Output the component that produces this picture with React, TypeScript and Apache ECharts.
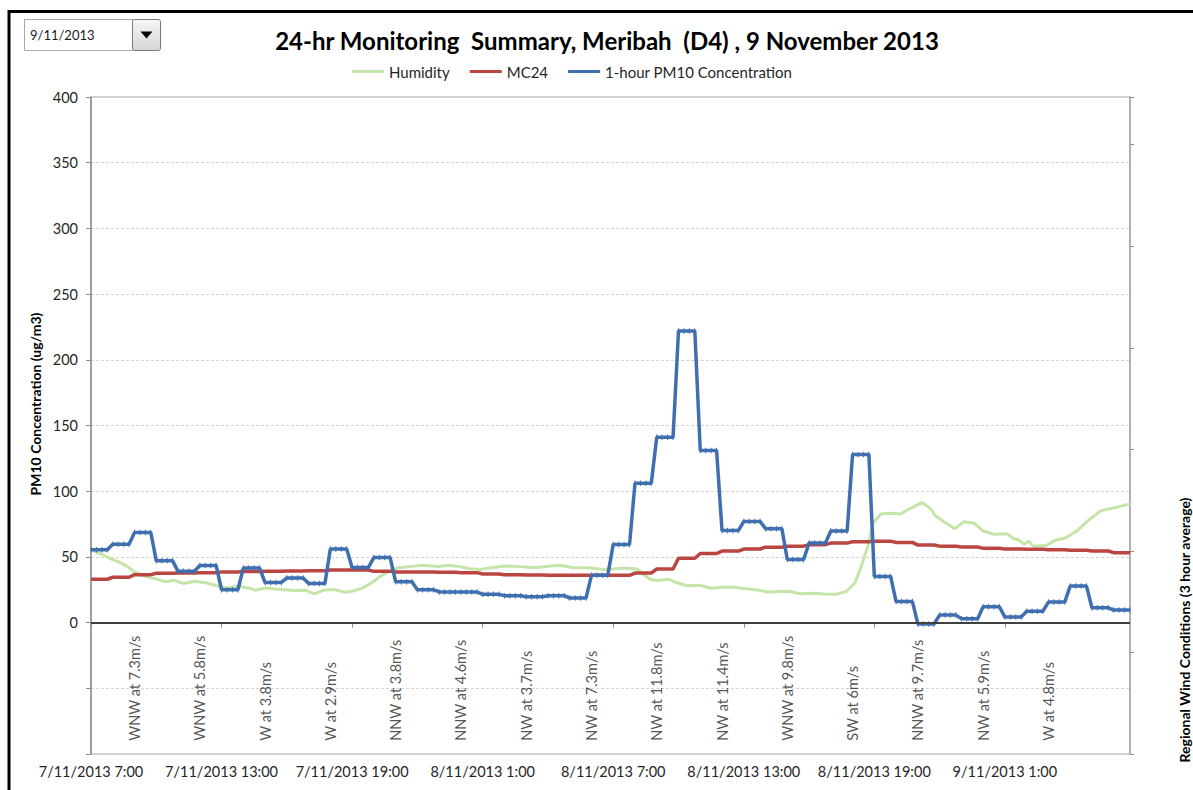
import React, { useEffect, useRef } from 'react';
import * as echarts from 'echarts';

// ---------- data ----------
const xLabels = [
  '7/11/2013 7:00', '7/11/2013 13:00', '7/11/2013 19:00', '8/11/2013 1:00',
  '8/11/2013 7:00', '8/11/2013 13:00', '8/11/2013 19:00', '9/11/2013 1:00',
];

// hourly 1-hour PM10 values (hour 0 = 7/11/2013 7:00), each held for the 4 quarter-hour readings
const pm10Hourly = [
  55.4, 59.7, 68.5, 47, 39, 43.5, 25, 41.5, 30.5, 34, 29.7, 56,
  42, 49.5, 31, 25, 23.3, 23.3, 21.5, 20.5, 19.7, 20.5, 18.7, 36,
  59.5, 106, 141, 222, 131, 70, 77, 71.5, 48, 60.5, 69.7, 128,
  35.1, 16, -1, 5.7, 3, 12, 4.2, 8.7, 15.6, 27.8, 11.3, 9.5,
];

const mc24Hourly = [
  33, 34.5, 36.5, 37.5, 37.8, 38, 38.5, 38.8, 39, 39.2, 39.5, 40,
  40, 39, 38.5, 38.5, 38.3, 38, 37, 36.5, 36.2, 36, 36, 36,
  36, 37.7, 40.8, 49, 52.6, 54.4, 56, 57.4, 58.2, 59.3, 60.5, 61.5,
  62, 61, 59, 58.2, 57.5, 56.5, 56, 55.8, 55.5, 55, 54.5, 53.2,
];

const humidityHours = [
  0, 0.49, 0.99, 1.31, 1.64, 1.97, 2.47, 2.96, 3.45, 3.78, 4.27, 4.77, 5.26, 5.75,
  6.25, 6.74, 7.23, 7.56, 8.05, 8.71, 9.37, 9.86, 10.27, 10.68, 11.18, 11.67, 12.0,
  12.49, 12.9, 13.31, 13.64, 14.14, 14.63, 15.29, 15.94, 16.44, 16.93, 17.42, 17.92,
  18.41, 19.07, 19.72, 20.38, 20.87, 21.53, 22.19, 22.85, 23.5, 23.95, 24.5, 25.1,
  25.4, 25.7, 26, 26.55, 26.9, 27.4, 27.95, 28.5, 29, 29.5, 30, 30.6, 31.1, 31.6,
  32.1, 32.6, 33.2, 33.7, 34.2, 34.7, 35.1, 35.4, 35.7, 35.95, 36.3, 36.8, 37.2,
  37.6, 38.2, 38.6, 38.8, 39.25, 39.7, 40.1, 40.6, 41, 41.5, 42.1, 42.4, 42.6,
  42.9, 43.1, 43.3, 43.9, 44.3, 44.8, 45.3, 45.9, 46.4, 47.1, 47.75,
];
const humidityValues = [
  55.4, 52, 48, 46, 43, 39, 35.4, 33.3, 31, 32.3, 29.7, 31.5, 30.3, 28.2,
  26.4, 27.7, 26.4, 24.6, 26.4, 25.1, 24.4, 24.6, 21.8, 24.6, 25.1, 23.1, 23.8,
  26.4, 30.3, 35.4, 38.5, 41.8, 42.6, 43.6, 42.6, 43.6, 42.6, 41, 40.5,
  41.8, 43.1, 42.6, 41.8, 42.6, 43.6, 41.8, 41.8, 40.5, 40.8, 41.5, 40.8,
  36.4, 33, 32, 33, 30.5, 28, 28.5, 26.2, 26.9, 26.9, 25.9, 24.9, 23.3, 23.6,
  23.6, 22, 22.3, 21.8, 21.5, 23.6, 30, 42.8, 58.2, 76, 82.6, 83.3, 82.6,
  86.4, 91.5, 86.4, 81.3, 76.2, 71.5, 76.7, 75.6, 69.7, 67.2, 67.7, 63.8, 63.3,
  59.5, 62, 58.2, 58.7, 62.6, 64.6, 69.7, 78.7, 85, 87.7, 90.3,
];

const windHours = [2, 5, 8, 11, 14, 17, 20, 23, 26, 29, 32, 35, 38, 41, 44];
const windLabels = [
  'WNW at 7.3m/s', 'WNW at 5.8m/s', 'W at 3.8m/s', 'W at 2.9m/s', 'NNW at 3.8m/s',
  'NNW at 4.6m/s', 'NW at 3.7m/s', 'NW at 7.3m/s', 'NW at 11.8m/s', 'NW at 11.4m/s',
  'WNW at 9.8m/s', 'SW at 6m/s', 'NNW at 9.7m/s', 'NW at 5.9m/s', 'W at 4.8m/s',
];

const seriesNames = ['Humidity', 'MC24', '1-hour PM10 Concentration'];

// ---------- layout / style ----------
const FONT = 'Lato, "Open Sans", sans-serif';
const quarterOffsets = [0, 0.25, 0.5, 0.75];
const WIND_LABEL_Y = -90;

function hourlyToQuarter(arr: number[]) {
  return arr.flatMap((v, i) => quarterOffsets.map((q) => [i + q, v]));
}

function buildOption(): any {
  const pm10Data = hourlyToQuarter(pm10Hourly);
  const mc24Data = hourlyToQuarter(mc24Hourly);
  const humData = humidityHours.map((h, i) => [h, humidityValues[i]]);
  const windData = windHours.map((h, i) => ({ value: [h, WIND_LABEL_Y], name: windLabels[i] }));

  return {
    animation: false,
    backgroundColor: '#ffffff',
    textStyle: { fontFamily: FONT },
    legend: {
      left: 352,
      top: 64,
      padding: 0,
      itemWidth: 32,
      itemHeight: 3,
      itemGap: 20,
      icon: 'rect',
      data: seriesNames,
      textStyle: { fontSize: 15, color: '#262626', fontFamily: FONT },
    },
    grid: {
      left: 91,
      right: 63,
      top: 97,
      bottom: 36,
      show: true,
      borderColor: '#a6a6a6',
      borderWidth: 1,
      backgroundColor: 'transparent',
    },
    xAxis: {
      type: 'value',
      min: 0,
      max: 47.75,
      interval: 6,
      axisLine: { show: true, lineStyle: { color: '#8c8c8c', width: 1.5 } },
      axisTick: { show: true, length: 5, lineStyle: { color: '#8c8c8c' } },
      splitLine: { show: false },
      axisLabel: {
        margin: 10,
        fontSize: 14.5,
        color: '#262626',
        fontFamily: FONT,
        showMaxLabel: false,
        formatter: (v: number) => {
          const idx = Math.round(v / 6);
          return Math.abs(v - idx * 6) < 1e-6 && xLabels[idx] ? xLabels[idx] : '';
        },
      },
    },
    yAxis: [
      {
        type: 'value',
        min: -100,
        max: 400,
        interval: 50,
        axisLine: { show: true, lineStyle: { color: '#8c8c8c', width: 1.5 } },
        axisTick: { show: true, length: 5, lineStyle: { color: '#8c8c8c' } },
        splitLine: { show: true, lineStyle: { color: '#d4d4d4', type: [3, 2], width: 1 } },
        axisLabel: {
          margin: 13,
          fontSize: 14.5,
          color: '#262626',
          fontFamily: FONT,
          formatter: (v: number) => (v < 0 ? '' : String(v)),
        },
      },
      {
        type: 'value',
        position: 'right',
        min: 0,
        max: 6.47,
        interval: 1,
        axisLine: { show: true, lineStyle: { color: '#a6a6a6', width: 1.5 } },
        axisTick: { show: true, length: 4, lineStyle: { color: '#8c8c8c' } },
        splitLine: { show: false },
        axisLabel: { show: false },
      },
    ],
    series: [
      {
        name: 'Humidity',
        type: 'line',
        data: humData,
        showSymbol: false,
        symbol: 'none',
        smooth: false,
        lineStyle: { color: '#c5e4a8', width: 3 },
        itemStyle: { color: '#c5e4a8' },
        z: 2,
      },
      {
        name: 'MC24',
        type: 'line',
        data: mc24Data,
        showSymbol: false,
        symbol: 'none',
        lineStyle: { color: '#bb4541', width: 3.5 },
        itemStyle: { color: '#bb4541' },
        z: 3,
        markLine: {
          silent: true,
          symbol: 'none',
          label: { show: false },
          lineStyle: { color: '#404040', width: 2, type: 'solid' },
          data: [{ yAxis: 0 }],
        },
      },
      {
        name: '1-hour PM10 Concentration',
        type: 'line',
        data: pm10Data,
        showSymbol: true,
        symbol: 'rect',
        symbolSize: [1, 5.5],
        lineStyle: { color: '#3f6fb0', width: 3.5 },
        itemStyle: { color: '#3f6fb0' },
        z: 4,
      },
      {
        name: 'wind',
        type: 'scatter',
        data: windData,
        symbolSize: 1,
        itemStyle: { color: 'transparent' },
        silent: true,
        z: 5,
        label: {
          show: true,
          position: 'inside',
          rotate: 90,
          align: 'left',
          verticalAlign: 'middle',
          fontSize: 14.5,
          color: '#262626',
          fontFamily: FONT,
          formatter: (p: any) => p.name,
        },
      },
    ],
    graphic: [
      // outer frame
      {
        type: 'polyline',
        shape: { points: [[9, 800], [9, 11.5], [1200, 11.5]] },
        style: { stroke: '#000', lineWidth: 3, fill: 'none' },
        silent: true,
      },
      // date dropdown
      {
        type: 'rect',
        shape: { x: 24.5, y: 19.5, width: 108, height: 31 },
        style: { fill: '#fff', stroke: '#a9a9a9', lineWidth: 1 },
        silent: true,
      },
      {
        type: 'text',
        x: 30,
        y: 35,
        style: { text: '9/11/2013', font: `13px ${FONT}`, fill: '#1a1a1a', textVerticalAlign: 'middle' },
        silent: true,
      },
      {
        type: 'rect',
        shape: { x: 132.5, y: 19.5, width: 28, height: 31, r: 2 },
        style: {
          fill: new echarts.graphic.LinearGradient(0, 0, 0, 1, [
            { offset: 0, color: '#f6f6f6' },
            { offset: 1, color: '#d6d6d6' },
          ]),
          stroke: '#7a7a7a',
          lineWidth: 1,
        },
        silent: true,
      },
      {
        type: 'polygon',
        shape: { points: [[140.5, 31.5], [152.5, 31.5], [146.5, 38.5]] },
        style: { fill: '#000' },
        silent: true,
      },
      // title
      {
        type: 'text',
        x: 607,
        y: 40,
        style: {
          text: '24-hr Monitoring  Summary, Meribah  (D4) , 9 November 2013',
          font: `bold 24px ${FONT}`,
          fill: '#000',
          textAlign: 'center',
          textVerticalAlign: 'middle',
        },
        silent: true,
      },
      // left axis name
      {
        type: 'text',
        x: 35,
        y: 404,
        rotation: Math.PI / 2,
        style: {
          text: 'PM10 Concentration (ug/m3)',
          font: `bold 14px ${FONT}`,
          fill: '#000',
          textAlign: 'center',
          textVerticalAlign: 'middle',
        },
        silent: true,
      },
      // right axis name
      {
        type: 'text',
        x: 1184,
        y: 630,
        rotation: Math.PI / 2,
        style: {
          text: 'Regional Wind Conditions (3 hour average)',
          font: `bold 14px ${FONT}`,
          fill: '#000',
          textAlign: 'center',
          textVerticalAlign: 'middle',
        },
        silent: true,
      },
    ],
  };
}

export default function App() {
  const ref = useRef<HTMLDivElement>(null);
  useEffect(() => {
    if (!ref.current) return;
    const chart = echarts.init(ref.current, null, { renderer: 'svg' });
    chart.setOption(buildOption());
    return () => chart.dispose();
  }, []);
  return (
    <div
      ref={ref}
      style={{ position: 'fixed', left: 0, top: 0, width: 1193, height: 790, background: '#fff' }}
    />
  );
}
